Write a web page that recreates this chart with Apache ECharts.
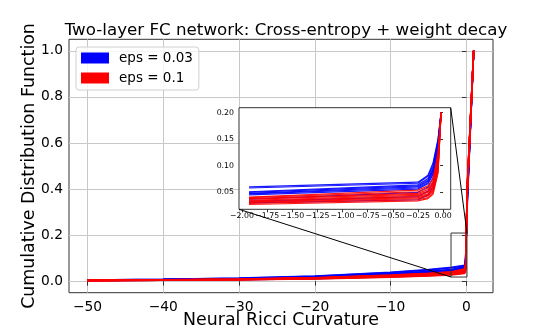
<!DOCTYPE html>
<html>
<head>
<meta charset="utf-8">
<script src="https://cdn.jsdelivr.net/npm/echarts@6/dist/echarts.min.js"></script>
<style>
  html, body { margin: 0; padding: 0; background: #fff; }
  #chart { width: 548px; height: 329px; }
</style>
</head>
<body>
<div id="chart"></div>
<script>
// curvature values where every CDF run is sampled
const curvature = [-50, -40, -30, -20, -10, -5, -1.93, -0.25, -0.15, -0.1, -0.05, -0.02, 0.12, 0.96];

// eps = 0.03 runs
const blueRuns = [
  [0.0054, 0.0084, 0.0132, 0.0222, 0.039, 0.050, 0.060, 0.069, 0.082, 0.105, 0.150, 0.200, 0.36, 1.0],
  [0.0052, 0.0081, 0.0128, 0.0215, 0.0377, 0.048, 0.058, 0.067, 0.080, 0.100, 0.148, 0.198, 0.34, 1.0],
  [0.0046, 0.0071, 0.0112, 0.0189, 0.0332, 0.0423, 0.051, 0.064, 0.076, 0.095, 0.144, 0.200, 0.37, 1.0],
  [0.0045, 0.0070, 0.0110, 0.0185, 0.0325, 0.0415, 0.050, 0.062, 0.073, 0.092, 0.140, 0.196, 0.35, 1.0],
  [0.0043, 0.0067, 0.0106, 0.0178, 0.0312, 0.0398, 0.048, 0.060, 0.071, 0.090, 0.138, 0.199, 0.38, 1.0],
  [0.0042, 0.0066, 0.0103, 0.0174, 0.0306, 0.0390, 0.047, 0.058, 0.068, 0.086, 0.135, 0.197, 0.36, 1.0],
  [0.0041, 0.0063, 0.0099, 0.0167, 0.0293, 0.0374, 0.045, 0.056, 0.066, 0.083, 0.130, 0.200, 0.39, 1.0],
  [0.0033, 0.0052, 0.0081, 0.0137, 0.0241, 0.0307, 0.037, 0.050, 0.060, 0.077, 0.125, 0.195, 0.37, 1.0],
  [0.0030, 0.0046, 0.0073, 0.0122, 0.0215, 0.0274, 0.033, 0.042, 0.052, 0.068, 0.118, 0.198, 0.40, 1.0],
  [0.0027, 0.0042, 0.0066, 0.0111, 0.0195, 0.0249, 0.030, 0.036, 0.045, 0.060, 0.110, 0.200, 0.38, 1.0]
];

// eps = 0.1 runs
const redRuns = [
  [0.0037, 0.0057, 0.0090, 0.0152, 0.0267, 0.0340, 0.041, 0.054, 0.062, 0.075, 0.125, 0.200, 0.41, 1.0],
  [0.0036, 0.0056, 0.0088, 0.0148, 0.0260, 0.0332, 0.040, 0.051, 0.058, 0.070, 0.120, 0.199, 0.40, 1.0],
  [0.0034, 0.0053, 0.0084, 0.0141, 0.0247, 0.0315, 0.038, 0.048, 0.055, 0.066, 0.115, 0.200, 0.42, 1.0],
  [0.0033, 0.0052, 0.0081, 0.0137, 0.0241, 0.0307, 0.037, 0.046, 0.052, 0.063, 0.110, 0.198, 0.40, 1.0],
  [0.0032, 0.0049, 0.0077, 0.0130, 0.0228, 0.0290, 0.035, 0.044, 0.050, 0.060, 0.105, 0.200, 0.41, 1.0],
  [0.0031, 0.0048, 0.0075, 0.0126, 0.0221, 0.0282, 0.034, 0.042, 0.047, 0.057, 0.100, 0.197, 0.39, 1.0],
  [0.0029, 0.0045, 0.0070, 0.0118, 0.0208, 0.0266, 0.032, 0.040, 0.045, 0.054, 0.097, 0.200, 0.42, 1.0],
  [0.0028, 0.0043, 0.0068, 0.0115, 0.0202, 0.0257, 0.031, 0.038, 0.043, 0.052, 0.093, 0.199, 0.40, 1.0],
  [0.0026, 0.0041, 0.0064, 0.0107, 0.0189, 0.0241, 0.029, 0.036, 0.040, 0.049, 0.090, 0.196, 0.41, 1.0],
  [0.0024, 0.0038, 0.0059, 0.0100, 0.0176, 0.0224, 0.027, 0.034, 0.038, 0.046, 0.086, 0.200, 0.40, 1.0]
];

const mainXTicks = [-50, -40, -30, -20, -10, 0];
const mainYTicks = [0, 0.2, 0.4, 0.6, 0.8, 1.0];
const insetXTicks = [-2, -1.75, -1.5, -1.25, -1, -0.75, -0.5, -0.25, 0];
const insetYTicks = [0.05, 0.1, 0.15, 0.2];

const mainXRange = [-52.44, 3.51];
const mainYRange = [-0.05, 1.05];
const insetXRange = [-2.03, 0.076];
const insetYRange = [0.018, 0.209];

const FONT = 'DejaVu Sans';
const BLUE = '#0000ff';
const RED = '#ff0000';
const minus = s => s.replace('-', '\u2212');

const chart = echarts.init(document.getElementById('chart'), null, { renderer: 'canvas' });

function pairs(run, inset) {
  const out = [];
  curvature.forEach((x, i) => {
    if (!inset || (x > -2 && x < 0)) out.push([x, run[i]]);
  });
  return out;
}

const groups = [[blueRuns, 'eps = 0.03', BLUE], [redRuns, 'eps = 0.1', RED]];
const series = [];
[0, 1].forEach(g => {
  groups.forEach(([runs, name, color]) => {
    runs.forEach(run => {
      series.push({
        type: 'line', name: name, xAxisIndex: g, yAxisIndex: g,
        data: pairs(run, g === 1), showSymbol: false, symbol: 'none', silent: true,
        lineStyle: { color: color, width: g === 0 ? 1.6 : 1.2, opacity: 0.9 },
        itemStyle: { color: color }, z: g === 0 ? 2 : 4
      });
    });
  });
});

const tickStyle = { color: '#333', width: 1 };

chart.setOption({
  animation: false,
  title: {
    text: 'Two-layer FC network: Cross-entropy + weight decay',
    left: 281, top: 17.5, textAlign: 'center',
    textStyle: { fontFamily: FONT, fontSize: 16.7, fontWeight: 'normal', color: '#000' }
  },
  legend: {
    orient: 'vertical', left: 76, top: 47,
    data: [
      { name: 'eps = 0.03', itemStyle: { color: BLUE } },
      { name: 'eps = 0.1', itemStyle: { color: RED } }
    ],
    icon: 'rect', itemWidth: 28, itemHeight: 11, itemGap: 6,
    padding: [4, 6, 5, 5],
    backgroundColor: 'rgba(255,255,255,0.8)', borderColor: '#d0d0d0', borderWidth: 1, borderRadius: 3,
    textStyle: { fontFamily: FONT, fontSize: 13.5, color: '#000', lineHeight: 14, padding: [0, 0, 0, 5] },
    selectedMode: false
  },
  grid: [
    { left: 69, top: 39.3, width: 424, height: 253.4, outerBoundsMode: 'none', containLabel: false,
      show: true, borderColor: '#333', borderWidth: 1, backgroundColor: 'transparent' },
    { left: 239, top: 107.7, width: 211.7, height: 101.6, outerBoundsMode: 'none', containLabel: false }
  ],
  xAxis: [
    {
      type: 'value', gridIndex: 0, min: mainXRange[0], max: mainXRange[1],
      name: 'Neural Ricci Curvature', nameLocation: 'middle', nameGap: 19, nameMoveOverlap: false,
      nameTextStyle: { fontFamily: FONT, fontSize: 17.4, color: '#000' },
      axisLine: { show: false },
      axisTick: { show: true, length: 4.5, customValues: mainXTicks, lineStyle: tickStyle },
      axisLabel: { customValues: mainXTicks, margin: 8, fontFamily: FONT, fontSize: 13.8, color: '#000',
        formatter: v => minus(String(v)) },
      splitLine: { show: true, lineStyle: { color: '#c8c8c8', width: 1 } }
    },
    {
      type: 'value', gridIndex: 1, min: insetXRange[0], max: insetXRange[1], z: 3,
      axisLine: { show: false },
      axisTick: { show: true, length: 3, customValues: insetXTicks, lineStyle: tickStyle },
      axisLabel: { customValues: insetXTicks, margin: 3, fontFamily: FONT, fontSize: 7.8, color: '#000',
        formatter: v => minus(v.toFixed(2)) },
      splitLine: { show: false }
    }
  ],
  yAxis: [
    {
      type: 'value', gridIndex: 0, min: mainYRange[0], max: mainYRange[1],
      name: 'Cumulative Distribution Function', nameLocation: 'middle', nameGap: 31, nameMoveOverlap: false,
      nameTextStyle: { fontFamily: FONT, fontSize: 17.4, color: '#000' },
      axisLine: { show: false },
      axisTick: { show: true, length: 4.5, customValues: mainYTicks, lineStyle: tickStyle },
      axisLabel: { customValues: mainYTicks, margin: 6, fontFamily: FONT, fontSize: 13.8, color: '#000',
        formatter: v => v.toFixed(1) },
      splitLine: { show: true, lineStyle: { color: '#c8c8c8', width: 1 } }
    },
    {
      type: 'value', gridIndex: 1, min: insetYRange[0], max: insetYRange[1], z: 3,
      axisLine: { show: false },
      axisTick: { show: true, length: 3, customValues: insetYTicks, lineStyle: tickStyle },
      axisLabel: { customValues: insetYTicks, margin: 5, fontFamily: FONT, fontSize: 7.8, color: '#000',
        formatter: v => v.toFixed(2) },
      splitLine: { show: false }
    }
  ],
  series: series
});

// inset panel, zoom box and connector lines, placed from the axes' own scales
const px = (g, v) => chart.convertToPixel({ gridIndex: g }, v);
const boxLL = px(0, [insetXRange[0], insetYRange[0]]);
const boxUR = px(0, [insetXRange[1], insetYRange[1]]);
const inLL = px(1, [insetXRange[0], insetYRange[0]]);
const inUR = px(1, [insetXRange[1], insetYRange[1]]);

chart.setOption({
  graphic: [
    {
      type: 'rect', z: 1, silent: true,
      shape: { x: inLL[0], y: inUR[1], width: inUR[0] - inLL[0], height: inLL[1] - inUR[1] },
      style: { fill: '#fff', stroke: '#333', lineWidth: 1 }
    },
    {
      type: 'rect', z: 10, silent: true,
      shape: { x: boxLL[0], y: boxUR[1], width: boxUR[0] - boxLL[0], height: boxLL[1] - boxUR[1] },
      style: { fill: null, stroke: '#333', lineWidth: 1 }
    },
    {
      type: 'line', z: 10, silent: true,
      shape: { x1: inLL[0], y1: inLL[1], x2: boxLL[0], y2: boxLL[1] },
      style: { stroke: '#000', lineWidth: 1 }
    },
    {
      type: 'line', z: 10, silent: true,
      shape: { x1: inUR[0], y1: inUR[1], x2: boxUR[0], y2: boxUR[1] },
      style: { stroke: '#000', lineWidth: 1 }
    }
  ]
});
</script>
</body>
</html>
